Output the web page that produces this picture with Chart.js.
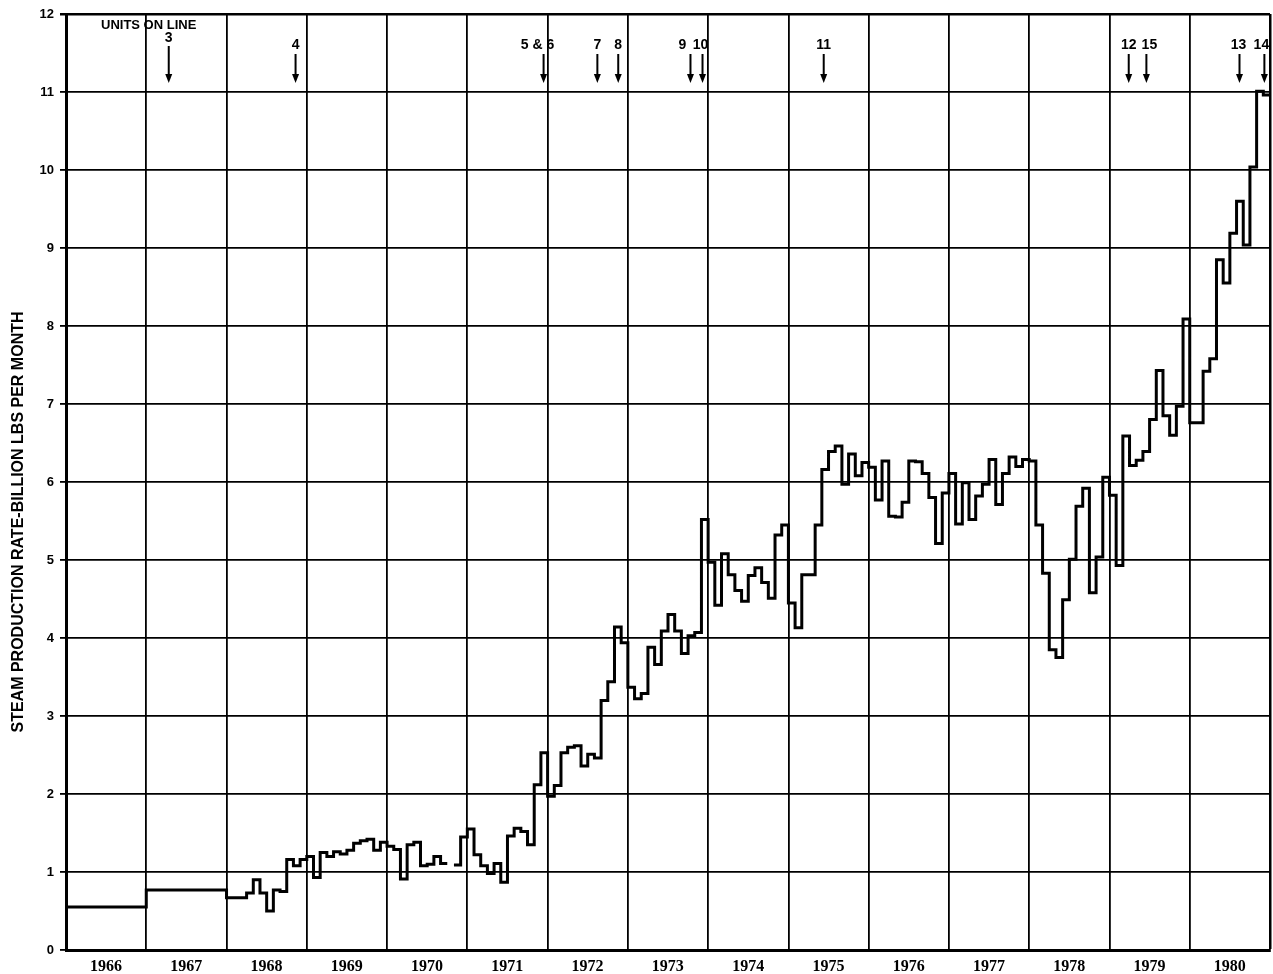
<!DOCTYPE html>
<html>
<head>
<meta charset="utf-8">
<title>Steam production rate</title>
<script src="https://cdn.jsdelivr.net/npm/chart.js@4.4.1/dist/chart.umd.min.js"></script>
<style>
    html, body { margin: 0; padding: 0; background: #fff; }
    #wrap { width: 1273px; height: 974px; }
</style>
</head>
<body>
<div id="wrap"><canvas id="steamChart" width="1273" height="974"></canvas></div>
<script>
// Steam production rate, billion lbs per month, one value per month
const years = [1966, 1967, 1968, 1969, 1970, 1971, 1972, 1973, 1974, 1975, 1976, 1977, 1978, 1979, 1980];

const v1966 = [0.55, 0.55, 0.55, 0.55, 0.55, 0.55, 0.55, 0.55, 0.55, 0.55, 0.55, 0.55];
const v1967 = [0.77, 0.77, 0.77, 0.77, 0.77, 0.77, 0.77, 0.77, 0.77, 0.77, 0.77, 0.77];
const v1968 = [0.67, 0.67, 0.67, 0.73, 0.90, 0.73, 0.50, 0.77, 0.75, 1.16, 1.08, 1.16];
const v1969 = [1.20, 0.93, 1.25, 1.20, 1.26, 1.23, 1.28, 1.37, 1.40, 1.42, 1.28, 1.38];
const v1970 = [1.33, 1.29, 0.91, 1.35, 1.38, 1.08, 1.10, 1.20, 1.11, null, 1.09, 1.45]; // Oct missing
const v1971 = [1.55, 1.22, 1.08, 0.98, 1.11, 0.87, 1.46, 1.56, 1.52, 1.35, 2.12, 2.53];
const v1972 = [1.97, 2.11, 2.53, 2.60, 2.62, 2.36, 2.51, 2.46, 3.20, 3.44, 4.14, 3.94];
const v1973 = [3.37, 3.22, 3.29, 3.88, 3.66, 4.09, 4.30, 4.09, 3.80, 4.03, 4.07, 5.52];
const v1974 = [4.97, 4.42, 5.08, 4.81, 4.61, 4.47, 4.80, 4.90, 4.71, 4.51, 5.32, 5.45];
const v1975 = [4.45, 4.13, 4.81, 4.81, 5.45, 6.16, 6.39, 6.46, 5.97, 6.36, 6.08, 6.25];
const v1976 = [6.19, 5.77, 6.27, 5.56, 5.55, 5.74, 6.27, 6.26, 6.11, 5.80, 5.21, 5.86];
const v1977 = [6.11, 5.46, 5.99, 5.52, 5.82, 5.97, 6.29, 5.71, 6.11, 6.32, 6.20, 6.29];
const v1978 = [6.27, 5.45, 4.83, 3.85, 3.75, 4.49, 5.01, 5.69, 5.92, 4.58, 5.04, 6.06];
const v1979 = [5.83, 4.93, 6.59, 6.21, 6.28, 6.39, 6.80, 7.43, 6.85, 6.60, 6.97, 8.09];
const v1980 = [6.76, 6.76, 7.42, 7.58, 8.85, 8.55, 9.19, 9.60, 9.04, 10.04, 11.01, 10.96];

const monthly = [v1966, v1967, v1968, v1969, v1970, v1971, v1972, v1973,
                 v1974, v1975, v1976, v1977, v1978, v1979, v1980];

// "Units on line" markers: label and date (decimal year) of each arrow
const unitLabels = ['3', '4', '5 & 6', '7', '8', '9', '10', '11', '12', '15', '13', '14'];
const unitDates = [1967.28, 1968.86, 1971.95, 1972.62, 1972.88, 1973.78, 1973.93, 1975.44,
                   1979.24, 1979.46, 1980.62, 1980.93];

const yMin = 0;
const yMax = 12;
const yTitle = 'STEAM PRODUCTION RATE-BILLION LBS PER MONTH';

// turn the monthly lists into step points (x = decimal year)
function buildSteps() {
    const pts = [];
    let last = null;
    monthly.forEach((vals, i) => {
        vals.forEach((v, m) => {
            const x = years[i] + m / 12;
            if (v === null) {
                // close the previous month, then leave a gap
                pts.push({ x: x, y: last });
                pts.push({ x: x, y: null });
            } else {
                pts.push({ x: x, y: v });
                last = v;
            }
        });
    });
    pts.push({ x: years[years.length - 1] + 1, y: last });
    return pts;
}

// label shifts so the numbers sit like on the original sheet
const labelShift = [0, 0, -6, 0, 0, -8, -2, 0, 0, 3, -1, -3];

const annotationsPlugin = {
    id: 'unitsOnLine',
    afterDraw(chart) {
        const ctx = chart.ctx;
        const xs = chart.scales.x;
        ctx.save();
        ctx.fillStyle = '#000';
        ctx.strokeStyle = '#000';

        ctx.font = 'bold 13px "Liberation Sans", Arial, sans-serif';
        ctx.textAlign = 'left';
        ctx.textBaseline = 'middle';
        ctx.fillText('UNITS ON LINE', 101, 25);

        ctx.textAlign = 'center';
        unitLabels.forEach((lbl, i) => {
            const x = xs.getPixelForValue(unitDates[i]);
            const first = i === 0;
            const ty = first ? 38 : 45;
            const top = first ? 46 : 54;
            const tip = 83;
            ctx.font = 'bold 14px "Liberation Sans", Arial, sans-serif';
            ctx.fillText(lbl, x + labelShift[i], ty);
            ctx.lineWidth = 2;
            ctx.beginPath();
            ctx.moveTo(x, top);
            ctx.lineTo(x, tip - 7);
            ctx.stroke();
            ctx.beginPath();
            ctx.moveTo(x - 3.5, tip - 9);
            ctx.lineTo(x + 3.5, tip - 9);
            ctx.lineTo(x, tip);
            ctx.closePath();
            ctx.fill();
        });

        // axis title, placed like the original (a bit below the middle)
        ctx.font = 'bold 16px "Liberation Sans", Arial, sans-serif';
        ctx.translate(19, 522);
        ctx.rotate(-Math.PI / 2);
        ctx.textBaseline = 'middle';
        ctx.fillText(yTitle, 0, 0);
        ctx.restore();
    }
};

document.addEventListener('DOMContentLoaded', () => {
    const ctx = document.getElementById('steamChart');
    const lastYear = years[years.length - 1] + 1;

    new Chart(ctx, {
        type: 'line',
        data: {
            datasets: [{
                label: 'Steam production',
                data: buildSteps(),
                stepped: true,
                borderColor: '#000',
                borderWidth: 3,
                borderJoinStyle: 'miter',
                pointRadius: 0,
                fill: false,
                spanGaps: false
            }]
        },
        options: {
            responsive: false,
            animation: false,
            layout: {
                autoPadding: false,
                padding: { top: 14, right: 3, left: 0, bottom: 0 }
            },
            plugins: {
                legend: { display: false },
                tooltip: { enabled: false }
            },
            scales: {
                x: {
                    type: 'linear',
                    min: years[0],
                    max: lastYear,
                    ticks: {
                        stepSize: 1,
                        autoSkip: false,
                        maxRotation: 0,
                        labelOffset: 40,
                        padding: 7,
                        color: '#000',
                        font: { family: '"Liberation Serif", serif', size: 16, weight: 'bold' },
                        callback: function (value) {
                            return years.includes(value) ? String(value) : '';
                        }
                    },
                    grid: {
                        color: '#000',
                        drawTicks: false,
                        lineWidth: c => (c.tick && c.tick.value === lastYear ? 2.5 : 1.8)
                    },
                    border: { color: '#000', width: 3 },
                    afterFit: scale => {
                        scale.height = 24;
                        scale.paddingLeft = 0;
                        scale.paddingRight = 0;
                    }
                },
                y: {
                    min: yMin,
                    max: yMax,
                    ticks: {
                        stepSize: 1,
                        padding: 6,
                        color: '#000',
                        font: { family: '"Liberation Sans", Arial, sans-serif', size: 13, weight: 'bold' }
                    },
                    grid: {
                        color: '#000',
                        tickLength: 6,
                        lineWidth: c => (c.tick && c.tick.value === yMax ? 2.5 : 1.8)
                    },
                    border: { color: '#000', width: 3 },
                    afterFit: scale => { scale.width = 66; }
                }
            }
        },
        plugins: [annotationsPlugin]
    });
});
</script>
</body>
</html>
